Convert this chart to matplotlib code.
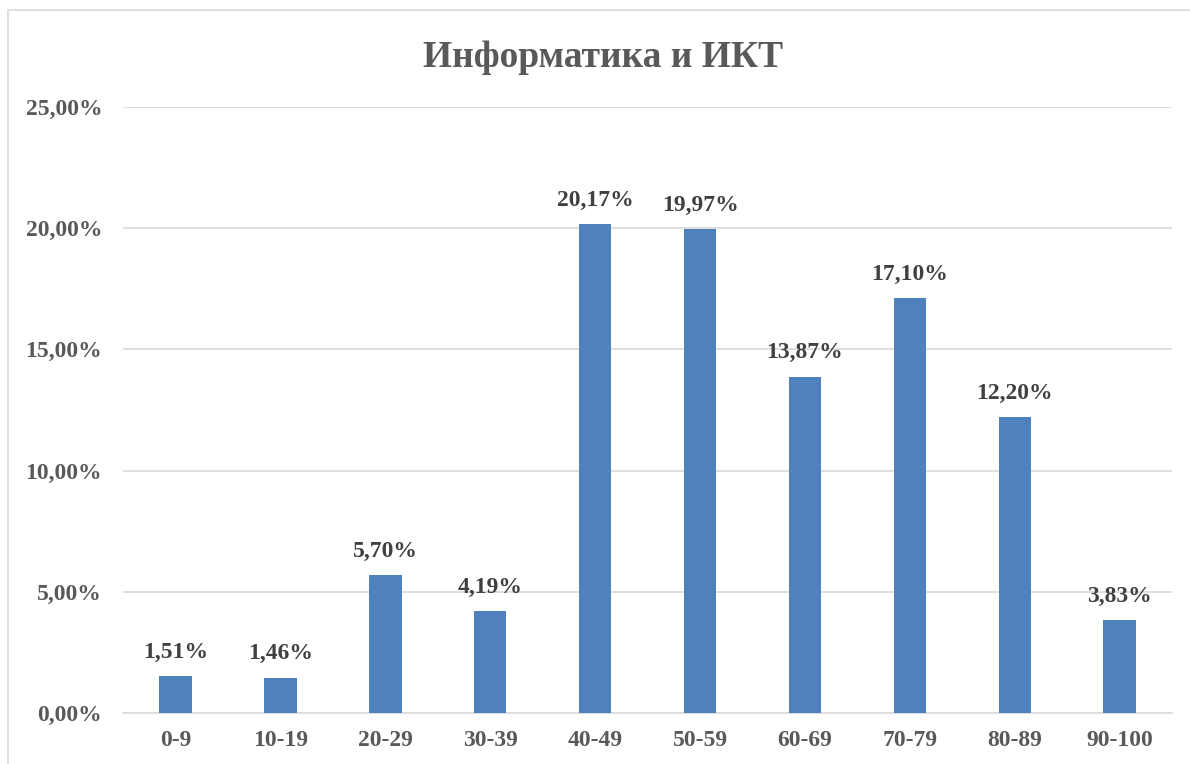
import matplotlib.pyplot as plt
from matplotlib.patches import Rectangle
import numpy as np

categories = ['0-9', '10-19', '20-29', '30-39', '40-49', '50-59', '60-69', '70-79', '80-89', '90-100']
values = [1.51, 1.46, 5.70, 4.19, 20.17, 19.97, 13.87, 17.10, 12.20, 3.83]
title = 'Информатика и ИКТ'

plt.rcParams['font.family'] = ['Liberation Serif', 'DejaVu Serif']

fig = plt.figure(figsize=(11.9, 7.64), dpi=100)
# outer chart border
fig.patches.append(Rectangle((0.0065, -0.01), 1.1, 0.997, transform=fig.transFigure,
                             fill=False, edgecolor='#D9D9D9', linewidth=1.2))

ax = fig.add_axes([0.1034, 0.0668, 0.8816, 0.7932])
x = np.arange(len(categories))
ax.bar(x, values, width=0.31, color='#4F81BD', zorder=3)

for xi, v in zip(x, values):
    ax.text(xi, v + 0.55, f'{v:.2f}'.replace('.', ',') + '%', ha='center', va='bottom',
            fontsize=17, fontweight='bold', color='#404040')

ax.set_xlim(-0.5, len(categories) - 0.5)
ax.set_ylim(0, 25)
ax.set_yticks(np.arange(0, 26, 5))
ax.set_yticklabels([f'{t:.2f}'.replace('.', ',') + '%' for t in np.arange(0, 26, 5)])
ax.set_xticks(x)
ax.set_xticklabels(categories)
ax.grid(axis='y', color='#D9D9D9', linewidth=1.2, zorder=0)
for s in ['top', 'right', 'left']:
    ax.spines[s].set_visible(False)
ax.spines['bottom'].set_color('#D9D9D9')
ax.spines['bottom'].set_linewidth(1.2)
ax.tick_params(length=0, labelsize=17, labelcolor='#595959')
ax.tick_params(axis='y', pad=15)
ax.tick_params(axis='x', pad=12)
for lbl in ax.get_xticklabels() + ax.get_yticklabels():
    lbl.set_fontweight('bold')

fig.text(0.507, 0.925, title, ha='center', va='center', fontsize=27,
         fontweight='bold', color='#595959')

fig.savefig('out.png', dpi=100)
